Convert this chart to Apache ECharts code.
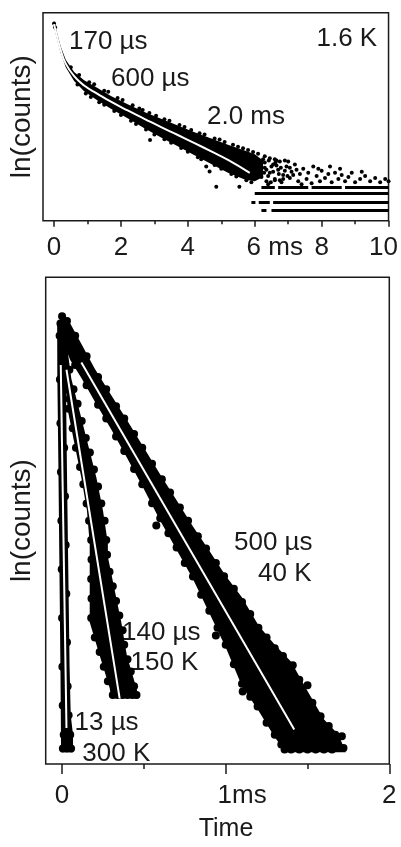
<!DOCTYPE html>
<html>
<head>
<meta charset="utf-8">
<script src="https://cdn.jsdelivr.net/npm/echarts@6/dist/echarts.min.js"></script>
<style>
html, body { margin: 0; padding: 0; background: #fff; }
#chart { width: 401px; height: 847px; }
</style>
</head>
<body>
<div id="chart"></div>
<script>
// time in ms, ln(counts) in arbitrary units (0..10 over each frame)

/************ upper panel, 1.6 K **************/
const topTicks = [0, 2, 4, 6, 8, 10];
const topMinorTicks = [1, 3, 5, 7, 9];

const fit16K = [[0,9.45],[0.1,8.8],[0.2,8.2],[0.35,7.55],[0.6,6.95],[0.9,6.5],[1.3,6.1],[1.7,5.72],
  [2.2,5.3],[2.7,4.9],[3.2,4.5],[3.7,4.12],[4.2,3.73],[4.7,3.33],[5.2,2.92],[5.85,2.3]];

// outline of the dense cloud of points
const band16KUpper = [[0,9.62],[0.1,8.97],[0.2,8.37],[0.35,7.74],[0.6,7.15],[0.9,6.75],[1.3,6.38],[1.7,6.0],
  [2.2,5.6],[2.7,5.22],[3.2,4.9],[3.7,4.58],[4.2,4.25],[4.7,3.95],[5.2,3.65],[5.7,3.38],[6.0,3.2],[6.25,2.9]];
const band16KLower = [[0,9.3],[0.1,8.65],[0.2,8.05],[0.35,7.38],[0.6,6.72],[0.9,6.22],[1.3,5.78],[1.7,5.38],
  [2.2,4.92],[2.7,4.45],[3.2,4.0],[3.7,3.58],[4.2,3.15],[4.7,2.72],[5.2,2.3],[5.7,1.98],[6.0,1.9],[6.25,2.1]];

const dots16K = [
  [0,9.48],[0.03,9.3],
  [0.5,7.38],[0.75,7.0],[1.05,6.66],[1.2,6.56],[1.5,6.25],[1.62,6.2],[1.9,5.9],[2.05,5.8],[2.35,5.55],
  [2.55,5.4],[2.65,5.32],[2.85,5.18],[3.05,5.05],[3.3,4.88],[3.45,4.8],[3.75,4.6],[3.9,4.5],[4.1,4.36],
  [4.35,4.2],[4.5,4.15],[4.8,3.95],[4.95,3.9],[5.1,3.78],[5.35,3.65],[5.5,3.55],[5.65,3.48],[5.8,3.4],
  [5.95,3.3],[6.1,3.22],[6.3,3.1],[6.45,3.0],[6.6,2.95],[6.75,2.85],[6.9,2.9],
  [0.7,6.55],[0.95,6.12],[1.1,5.95],[1.35,5.7],[1.5,5.58],[1.8,5.28],[2.0,5.08],[2.3,4.8],[2.45,4.65],
  [2.75,4.38],[2.87,3.88],[3.0,4.15],[3.3,3.92],[3.5,3.75],[3.8,3.5],[4.0,3.32],[4.3,3.05],[4.4,2.95],
  [4.55,2.6],[4.65,2.36],[4.8,2.68],[4.85,1.63],[4.9,2.85],[5.0,2.5],[5.3,2.25],[5.45,2.12],[5.54,1.63],
  [5.75,1.95],[5.9,1.85],
  [6.05,2.4],[6.15,2.8],[6.2,2.1],[6.3,2.55],[6.35,1.9],[6.45,2.3],[6.55,2.7],[6.6,2.0],[6.7,2.45],
  [6.8,1.85],[6.85,2.2],[6.95,2.6],[7.05,2.05],[7.1,2.35],[7.2,2.7],[7.3,1.9],[7.35,2.25],[7.45,2.5],
  [7.55,2.0],[7.6,2.3],[7.7,1.8],[7.75,2.6],[7.85,2.15],[7.95,1.9],[8.0,2.4],[8.1,2.05],[8.2,2.25],
  [8.3,1.85],[8.4,2.3],[8.5,2.0],[8.6,2.2],[8.7,1.9],[8.8,2.1],[8.9,2.3],[9.0,1.85],[9.15,2.0],[9.3,2.15],
  [9.45,1.9],[9.6,2.05],[9.75,1.85],[9.9,2.0],[10.0,1.9],[6.25,2.95],[6.65,2.9],[7.0,2.85],[6.4,1.75],
  [7.4,1.75],[8.25,2.6],[9.2,2.35],[7.9,2.5],[8.55,2.5],
  [6.3,2.8],[6.35,2.45],[6.4,2.15],[6.5,2.6],[6.55,2.35],[6.6,1.95],[6.65,2.65],[6.72,2.25],[6.78,2.55],
  [6.85,2.0],[6.9,2.4],[6.98,2.15],[7.05,2.55],[7.15,2.2],[7.25,2.45],[6.28,2.3],[6.42,2.9],[6.48,1.85],
  [6.62,2.8],[6.75,1.95]
];

// single-count levels at long times: level and the time spans they fill
const rowLevels16K = [1.62, 1.32, 0.90, 0.51];
const rowSpans16K = [
  [[6.2,6.6],[6.7,7.6],[7.7,8.6],[8.7,10]],
  [[6.0,10]],
  [[5.9,6.02],[6.12,6.45],[6.55,10]],
  [[6.2,6.35],[6.5,10]]
];

/************ lower panel, 40 / 150 / 300 K **************/
const bottomTicks = [0, 1, 2];
const bottomMinorTicks = [0.5, 1.5];

const fit40K = [[0.118,8.25],[1.419,0.71]];
const band40KUpper = [[0,9.26],[0.05,9.05],[0.12,8.62],[0.2,8.12],[0.3,7.58],[0.4,7.05],[0.5,6.5],[0.6,5.95],
  [0.7,5.42],[0.8,4.88],[0.9,4.38],[1.0,3.87],[1.1,3.42],[1.2,2.85],[1.3,2.45],[1.4,2.1],[1.5,1.5],
  [1.6,0.92],[1.69,0.6],[1.734,0.24]];
const band40KLower = [[-0.02,8.9],[0.05,8.3],[0.12,7.92],[0.2,7.45],[0.3,6.88],[0.4,6.27],[0.5,5.65],[0.6,5.0],
  [0.7,4.4],[0.8,3.8],[0.9,3.1],[1.0,2.4],[1.1,1.6],[1.2,1.1],[1.3,0.55],[1.368,0.24]];
const dots40K = [
  [0.03,9.1],[0.08,8.8],[0.15,8.38],[0.22,7.95],[0.27,7.7],[0.33,7.35],[0.38,7.1],[0.44,6.78],[0.49,6.5],
  [0.55,6.17],[0.61,5.85],[0.66,5.58],[0.72,5.27],[0.77,5.0],[0.83,4.68],[0.88,4.43],[0.94,4.13],[0.99,3.86],
  [1.05,3.6],[1.1,3.33],[1.15,3.08],[1.2,2.8],[1.25,2.6],[1.3,2.38],[1.35,2.22],[1.41,2.03],[1.45,1.73],
  [1.5,1.62],[1.53,1.26],[1.58,0.98],[1.63,0.78],[1.67,0.6],[1.71,0.57],[1.72,0.33],[1.62,0.55],[1.66,0.33],
  [1.4,0.3],[1.45,0.3],[1.5,0.3],[1.55,0.3],[1.6,0.3],[1.65,0.3],
  [0.02,8.6],[0.08,8.2],[0.15,7.78],[0.22,7.38],[0.27,7.1],[0.33,6.73],[0.38,6.43],[0.44,6.06],[0.49,5.75],
  [0.55,5.36],[0.576,4.9],[0.6,5.05],[0.65,4.74],[0.7,4.45],[0.75,4.13],[0.8,3.85],[0.85,3.48],[0.9,3.15],
  [0.94,2.64],[0.95,2.8],[1.0,2.45],[1.05,2.05],[1.104,1.49],[1.1,1.65],[1.15,1.38],[1.195,1.18],[1.25,0.85],
  [1.3,0.6],[1.34,0.4],[1.36,0.3]
];

const fit150K = [[0.027,8.1],[0.352,1.35]];
const band150KUpper = [[0,9.2],[0.03,8.6],[0.057,7.91],[0.108,7.24],[0.159,6.56],[0.21,5.88],[0.25,5.21],
  [0.28,4.53],[0.28,4.26],[0.321,3.58],[0.362,2.91],[0.396,2.23],[0.454,1.56],[0.47,1.35]];
const band150KLower = [[-0.01,8.6],[0.016,7.91],[0.037,7.24],[0.077,6.56],[0.118,5.88],[0.152,5.21],
  [0.169,4.53],[0.169,3.58],[0.169,2.91],[0.23,2.23],[0.291,1.56],[0.301,1.35]];
const dots150K = [
  [0.045,8.1],[0.07,7.7],[0.095,7.4],[0.12,7.05],[0.145,6.7],[0.17,6.4],[0.195,6.05],[0.22,5.7],[0.24,5.35],
  [0.26,5.0],[0.27,4.6],[0.275,4.3],[0.29,3.95],[0.31,3.65],[0.33,3.35],[0.35,3.05],[0.37,2.75],[0.38,2.45],
  [0.4,2.15],[0.42,1.9],[0.44,1.6],[0.455,1.42],
  [0.025,7.7],[0.04,7.3],[0.065,6.9],[0.085,6.5],[0.11,6.1],[0.13,5.75],[0.15,5.35],[0.165,5.0],[0.178,4.6],
  [0.18,4.2],[0.178,3.8],[0.18,3.4],[0.178,3.0],[0.2,2.6],[0.23,2.3],[0.255,2.0],[0.28,1.7],[0.31,1.42],
  [0.34,1.42],[0.37,1.42],[0.4,1.42],[0.43,1.42]
];

const fit300K = [[-0.008,8.2],[0.027,0.74]];
const band300KUpper = [[0.01,9.2],[0.023,8.0],[0.03,6.0],[0.038,4.0],[0.046,2.0],[0.053,1.0],[0.067,0.6],[0.067,0.24]];
const band300KLower = [[-0.03,9.0],[-0.029,8.0],[-0.022,6.0],[-0.016,4.0],[-0.01,2.0],[-0.006,0.24]];
const dots300K = [
  [0,9.2],[0.01,9.0],[-0.01,9.05],[-0.015,8.8],[-0.013,7.9],[0.01,7.5],[-0.01,7.0],[0.013,6.5],[-0.007,6.0],
  [0.018,5.5],[-0.004,5.0],[0.022,4.5],[-0.002,4.0],[0.026,3.5],[0,3.0],[0.03,2.5],[0.002,2.0],[0.034,1.6],
  [0.004,1.2],[0.04,1.0],[0.01,0.6],[0.05,0.6],[0.03,0.32],[0.055,0.32],[0.005,0.32]
];

const notesTop = ['170 µs', '600 µs', '2.0 ms', '1.6 K'];
const notesBottom = ['500 µs', '40 K', '140 µs', '150 K', '13 µs', '300 K'];

/************ chart **************/
const FONT = '"Liberation Sans", Arial, Helvetica, sans-serif';
const INK = '#1a1a1a';

function bandSeries(ax, upper, lower) {
  return {
    type: 'custom', xAxisIndex: ax, yAxisIndex: ax === 0 ? 0 : 1,
    silent: true, z: 2, data: [upper[0]],
    renderItem: function (params, api) {
      const pts = upper.concat(lower.slice().reverse()).map(function (p) { return api.coord(p); });
      return { type: 'polygon', shape: { points: pts }, style: { fill: '#000' } };
    }
  };
}
function dotSeries(ax, data, size) {
  return {
    type: 'scatter', xAxisIndex: ax, yAxisIndex: ax === 0 ? 0 : 1, silent: true, z: 3,
    symbolSize: size, itemStyle: { color: '#000', opacity: 1 }, data: data
  };
}
function fitSeries(ax, data, smooth) {
  return {
    type: 'line', xAxisIndex: ax, yAxisIndex: ax === 0 ? 0 : 1, silent: true, z: 5,
    showSymbol: false, smooth: smooth, data: data,
    lineStyle: { color: '#fff', width: 2 }
  };
}

const rowData = [];
rowLevels16K.forEach(function (lv, i) {
  rowSpans16K[i].forEach(function (s) {
    rowData.push({ coords: [[s[0], lv], [s[1], lv]] });
  });
});

function textStyle(size) {
  return { fontSize: size, fontFamily: FONT, color: INK };
}
function frameAxis(grid, min, max, ticks, len, labels) {
  return {
    type: 'value', gridIndex: grid, min: min, max: max, position: 'bottom', offset: 0,
    axisLine: { show: false }, splitLine: { show: false },
    axisTick: { show: true, length: len, customValues: ticks, lineStyle: { color: INK, width: 1.5 } },
    axisLabel: labels || { show: false }
  };
}

const topLabels = Object.assign(textStyle(26), {
  customValues: topTicks, margin: 14,
  formatter: function (v) {
    if (v === 6) return '{p|6} ms';
    if (v === 10) return '{q|10}';
    return String(v);
  },
  rich: {
    p: Object.assign(textStyle(26), { padding: [0, 0, 0, 40] }),
    q: Object.assign(textStyle(26), { padding: [0, 10, 0, 0] })
  }
});
const bottomLabels = Object.assign(textStyle(26), {
  customValues: bottomTicks, margin: 19,
  formatter: function (v) { return v === 1 ? '{p|1}ms' : String(v); },
  rich: { p: Object.assign(textStyle(26), { padding: [0, 0, 0, 33] }) }
});

const xBottom = frameAxis(1, -0.1, 2, bottomTicks, 10, bottomLabels);
xBottom.name = 'Time';
xBottom.nameLocation = 'middle';
xBottom.nameGap = 53;
xBottom.nameTextStyle = Object.assign(textStyle(25), { padding: [0, 0, 0, 17] });

function yAxisFor(grid, gap) {
  return {
    type: 'value', gridIndex: grid, min: 0, max: 10,
    axisLine: { show: false }, axisTick: { show: false }, axisLabel: { show: false }, splitLine: { show: false },
    name: 'ln(counts)', nameLocation: 'middle', nameGap: gap, nameTextStyle: textStyle(28)
  };
}

function note(text, x, y) {
  return { type: 'text', x: x, y: y, silent: true,
    style: { text: text, fontSize: 26, fontFamily: FONT, fill: INK, align: 'left', verticalAlign: 'middle' } };
}

const option = {
  animation: false,
  backgroundColor: '#fff',
  grid: [
    { left: 43, top: 12.7, width: 347.7, height: 208, show: true, borderColor: INK, borderWidth: 1.5 },
    { left: 45.7, top: 277.3, width: 343.6, height: 492.7, show: true, borderColor: INK, borderWidth: 1.5 }
  ],
  xAxis: [
    frameAxis(0, -0.33, 10, topTicks, 6, topLabels),
    frameAxis(0, -0.33, 10, topMinorTicks, 3.5),
    xBottom,
    frameAxis(1, -0.1, 2, bottomMinorTicks, 5)
  ],
  yAxis: [yAxisFor(0, 6.5), yAxisFor(1, 9)],
  series: [
    bandSeries(0, band16KUpper, band16KLower),
    dotSeries(0, dots16K, 4),
    {
      type: 'lines', coordinateSystem: 'cartesian2d', xAxisIndex: 0, yAxisIndex: 0, silent: true, z: 3,
      lineStyle: { color: '#000', width: 3.2, opacity: 1 }, data: rowData
    },
    fitSeries(0, fit16K, true),

    bandSeries(2, band40KUpper, band40KLower),
    bandSeries(2, band150KUpper, band150KLower),
    bandSeries(2, band300KUpper, band300KLower),
    dotSeries(2, dots40K, 8),
    dotSeries(2, dots150K, 8),
    dotSeries(2, dots300K, 8),
    fitSeries(2, fit40K, false),
    fitSeries(2, fit150K, false),
    fitSeries(2, fit300K, false)
  ],
  graphic: [
    note(notesTop[0], 69, 42),
    note(notesTop[1], 111, 79),
    note(notesTop[2], 207, 117),
    note(notesTop[3], 316.5, 38.5),
    note(notesBottom[0], 234, 542.5),
    note(notesBottom[1], 258, 574),
    note(notesBottom[2], 122, 632.5),
    note(notesBottom[3], 130.5, 663),
    note(notesBottom[4], 74.5, 723),
    note(notesBottom[5], 82.3, 754)
  ]
};

const chart = echarts.init(document.getElementById('chart'));
chart.setOption(option);
</script>
</body>
</html>
